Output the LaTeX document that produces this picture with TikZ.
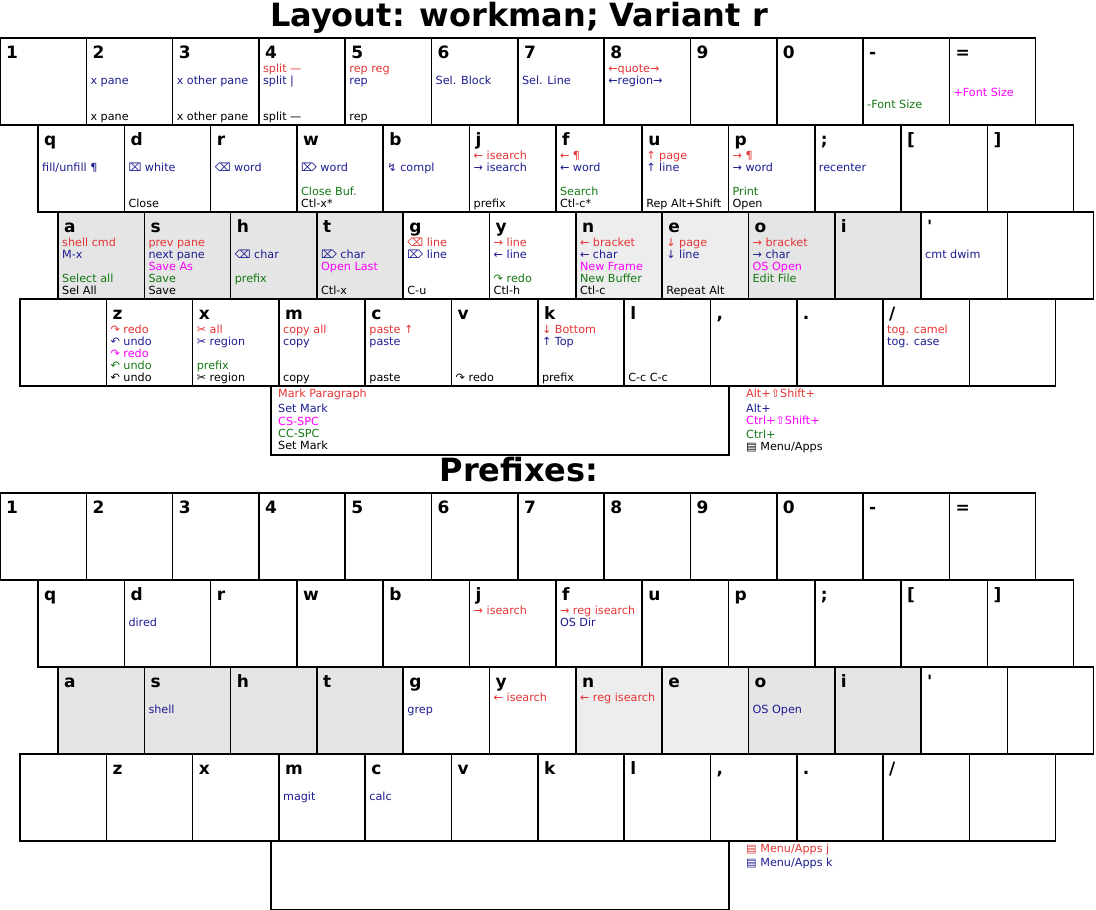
\documentclass[tikz,border=0pt]{standalone}
\usepackage{fontspec}
\setmainfont{DejaVu Sans}

\definecolor{keyred}{RGB}{228,52,52}
\definecolor{keyblue}{RGB}{28,28,145}
\definecolor{keymag}{RGB}{255,0,255}
\definecolor{keygreen}{RGB}{20,120,20}
\definecolor{keygray}{RGB}{229,229,229}
\definecolor{keylight}{RGB}{237,237,237}

\tikzset{
  key/.style={draw, line width=1.6pt, anchor=north west, minimum width=86.3pt,
    minimum height=87pt, inner sep=0pt, outer sep=0pt},
  spacebar/.style={key, line width=1.3pt, minimum width=458pt, minimum height=69pt},
  keycap/.style={anchor=base west, inner sep=0pt, xshift=6pt, yshift=-20pt,
    font=\fontsize{17}{17}\selectfont\bfseries},
  headline/.style={anchor=base, inner sep=0pt, font=\fontsize{32}{36}\selectfont\bfseries},
  txt/.style={anchor=base west, inner sep=0pt, xshift=4pt, font=\fontsize{11.2}{13}\selectfont},
  redln/.style={txt, text=keyred, yshift=-34pt},
  blueln/.style={txt, text=keyblue, yshift=-46pt},
  magln/.style={txt, text=keymag, yshift=-58pt},
  grnln/.style={txt, text=keygreen, yshift=-70pt},
  blkln/.style={txt, text=black, yshift=-82pt},
}

% one keyboard: rows 1..4, keys #1-row-col, space bar #1-sp
\newcommand{\drawkeys}[1]{%
  % number row
  \foreach \lab [count=\i] in {1,2,3,4,5,6,7,8,9,0,-,=} {
    \node[key] (#1-1-\i) at ({(\i-1)*86.3},0) {};
    \node[keycap] (#1-1-\i-cap) at (#1-1-\i.north west) {\lab};
  }
  % top row
  \foreach \lab [count=\i] in {q,d,r,w,b,j,f,u,p,;,{[},{]}} {
    \node[key] (#1-2-\i) at ({38+(\i-1)*86.3},87) {};
    \node[keycap] (#1-2-\i-cap) at (#1-2-\i.north west) {\lab};
  }
  % home row
  \foreach \lab/\fc [count=\i] in {a/keygray,s/keygray,h/keygray,t/keygray,g/white,y/white,
      n/keylight,e/keylight,o/keygray,i/keygray,{\textquotesingle}/white,{}/white} {
    \node[key, fill=\fc] (#1-3-\i) at ({58+(\i-1)*86.3},174) {};
    \node[keycap] (#1-3-\i-cap) at (#1-3-\i.north west) {\lab};
  }
  % bottom row
  \foreach \lab [count=\i] in {{},z,x,m,c,v,k,l,{,},.,{/},{}} {
    \node[key] (#1-4-\i) at ({20+(\i-1)*86.3},261) {};
    \node[keycap] (#1-4-\i-cap) at (#1-4-\i.north west) {\lab};
  }
  \node[spacebar] (#1-sp) at (271,348) {};
}

\begin{document}
\begin{tikzpicture}[x=1pt, y=-1pt]
  \useasboundingbox (0,0) rectangle (1096,910);

  \node[headline] (title) at (519,27) {Layout: workman; Variant r};
  \begin{scope}[shift={(0,38)}]
    \drawkeys{L}
  \end{scope}

  % number row
  \node[blueln] (L-1-2-b) at (L-1-2.north west) {x pane};
  \node[blkln] (L-1-2-k) at (L-1-2.north west) {x pane};
  \node[blueln] (L-1-3-b) at (L-1-3.north west) {x other pane};
  \node[blkln] (L-1-3-k) at (L-1-3.north west) {x other pane};
  \node[redln] (L-1-4-r) at (L-1-4.north west) {split —};
  \node[blueln] (L-1-4-b) at (L-1-4.north west) {split |};
  \node[blkln] (L-1-4-k) at (L-1-4.north west) {split —};
  \node[redln] (L-1-5-r) at (L-1-5.north west) {rep reg};
  \node[blueln] (L-1-5-b) at (L-1-5.north west) {rep};
  \node[blkln] (L-1-5-k) at (L-1-5.north west) {rep};
  \node[blueln] (L-1-6-b) at (L-1-6.north west) {Sel. Block};
  \node[blueln] (L-1-7-b) at (L-1-7.north west) {Sel. Line};
  \node[redln] (L-1-8-r) at (L-1-8.north west) {←quote→};
  \node[blueln] (L-1-8-b) at (L-1-8.north west) {←region→};
  \node[grnln] (L-1-11-g) at (L-1-11.north west) {-Font Size};
  \node[magln] (L-1-12-m) at (L-1-12.north west) {+Font Size};

  % top row
  \node[blueln] (L-2-1-b) at (L-2-1.north west) {fill/unfill ¶};
  \node[blueln] (L-2-2-b) at (L-2-2.north west) {⌧ white};
  \node[blkln] (L-2-2-k) at (L-2-2.north west) {Close};
  \node[blueln] (L-2-3-b) at (L-2-3.north west) {⌫ word};
  \node[blueln] (L-2-4-b) at (L-2-4.north west) {⌦ word};
  \node[grnln] (L-2-4-g) at (L-2-4.north west) {Close Buf.};
  \node[blkln] (L-2-4-k) at (L-2-4.north west) {Ctl-x*};
  \node[blueln] (L-2-5-b) at (L-2-5.north west) {↯ compl};
  \node[redln] (L-2-6-r) at (L-2-6.north west) {← isearch};
  \node[blueln] (L-2-6-b) at (L-2-6.north west) {→ isearch};
  \node[blkln] (L-2-6-k) at (L-2-6.north west) {prefix};
  \node[redln] (L-2-7-r) at (L-2-7.north west) {← ¶};
  \node[blueln] (L-2-7-b) at (L-2-7.north west) {← word};
  \node[grnln] (L-2-7-g) at (L-2-7.north west) {Search};
  \node[blkln] (L-2-7-k) at (L-2-7.north west) {Ctl-c*};
  \node[redln] (L-2-8-r) at (L-2-8.north west) {↑ page};
  \node[blueln] (L-2-8-b) at (L-2-8.north west) {↑ line};
  \node[blkln] (L-2-8-k) at (L-2-8.north west) {Rep Alt+Shift};
  \node[redln] (L-2-9-r) at (L-2-9.north west) {→ ¶};
  \node[blueln] (L-2-9-b) at (L-2-9.north west) {→ word};
  \node[grnln] (L-2-9-g) at (L-2-9.north west) {Print};
  \node[blkln] (L-2-9-k) at (L-2-9.north west) {Open};
  \node[blueln] (L-2-10-b) at (L-2-10.north west) {recenter};

  % home row
  \node[redln] (L-3-1-r) at (L-3-1.north west) {shell cmd};
  \node[blueln] (L-3-1-b) at (L-3-1.north west) {M-x};
  \node[grnln] (L-3-1-g) at (L-3-1.north west) {Select all};
  \node[blkln] (L-3-1-k) at (L-3-1.north west) {Sel All};
  \node[redln] (L-3-2-r) at (L-3-2.north west) {prev pane};
  \node[blueln] (L-3-2-b) at (L-3-2.north west) {next pane};
  \node[magln] (L-3-2-m) at (L-3-2.north west) {Save As};
  \node[grnln] (L-3-2-g) at (L-3-2.north west) {Save};
  \node[blkln] (L-3-2-k) at (L-3-2.north west) {Save};
  \node[blueln] (L-3-3-b) at (L-3-3.north west) {⌫ char};
  \node[grnln] (L-3-3-g) at (L-3-3.north west) {prefix};
  \node[blueln] (L-3-4-b) at (L-3-4.north west) {⌦ char};
  \node[magln] (L-3-4-m) at (L-3-4.north west) {Open Last};
  \node[blkln] (L-3-4-k) at (L-3-4.north west) {Ctl-x};
  \node[redln] (L-3-5-r) at (L-3-5.north west) {⌫ line};
  \node[blueln] (L-3-5-b) at (L-3-5.north west) {⌦ line};
  \node[blkln] (L-3-5-k) at (L-3-5.north west) {C-u};
  \node[redln] (L-3-6-r) at (L-3-6.north west) {→ line};
  \node[blueln] (L-3-6-b) at (L-3-6.north west) {← line};
  \node[grnln] (L-3-6-g) at (L-3-6.north west) {↷ redo};
  \node[blkln] (L-3-6-k) at (L-3-6.north west) {Ctl-h};
  \node[redln] (L-3-7-r) at (L-3-7.north west) {← bracket};
  \node[blueln] (L-3-7-b) at (L-3-7.north west) {← char};
  \node[magln] (L-3-7-m) at (L-3-7.north west) {New Frame};
  \node[grnln] (L-3-7-g) at (L-3-7.north west) {New Buffer};
  \node[blkln] (L-3-7-k) at (L-3-7.north west) {Ctl-c};
  \node[redln] (L-3-8-r) at (L-3-8.north west) {↓ page};
  \node[blueln] (L-3-8-b) at (L-3-8.north west) {↓ line};
  \node[blkln] (L-3-8-k) at (L-3-8.north west) {Repeat Alt};
  \node[redln] (L-3-9-r) at (L-3-9.north west) {→ bracket};
  \node[blueln] (L-3-9-b) at (L-3-9.north west) {→ char};
  \node[magln] (L-3-9-m) at (L-3-9.north west) {OS Open};
  \node[grnln] (L-3-9-g) at (L-3-9.north west) {Edit File};
  \node[blueln] (L-3-11-b) at (L-3-11.north west) {cmt dwim};

  % bottom row
  \node[redln] (L-4-2-r) at (L-4-2.north west) {↷ redo};
  \node[blueln] (L-4-2-b) at (L-4-2.north west) {↶ undo};
  \node[magln] (L-4-2-m) at (L-4-2.north west) {↷ redo};
  \node[grnln] (L-4-2-g) at (L-4-2.north west) {↶ undo};
  \node[blkln] (L-4-2-k) at (L-4-2.north west) {↶ undo};
  \node[redln] (L-4-3-r) at (L-4-3.north west) {✂ all};
  \node[blueln] (L-4-3-b) at (L-4-3.north west) {✂ region};
  \node[grnln] (L-4-3-g) at (L-4-3.north west) {prefix};
  \node[blkln] (L-4-3-k) at (L-4-3.north west) {✂ region};
  \node[redln] (L-4-4-r) at (L-4-4.north west) {copy all};
  \node[blueln] (L-4-4-b) at (L-4-4.north west) {copy};
  \node[blkln] (L-4-4-k) at (L-4-4.north west) {copy};
  \node[redln] (L-4-5-r) at (L-4-5.north west) {paste ↑};
  \node[blueln] (L-4-5-b) at (L-4-5.north west) {paste};
  \node[blkln] (L-4-5-k) at (L-4-5.north west) {paste};
  \node[blkln] (L-4-6-k) at (L-4-6.north west) {↷ redo};
  \node[redln] (L-4-7-r) at (L-4-7.north west) {↓ Bottom};
  \node[blueln] (L-4-7-b) at (L-4-7.north west) {↑ Top};
  \node[blkln] (L-4-7-k) at (L-4-7.north west) {prefix};
  \node[blkln] (L-4-8-k) at (L-4-8.north west) {C-c C-c};
  \node[redln] (L-4-11-r) at (L-4-11.north west) {tog. camel};
  \node[blueln] (L-4-11-b) at (L-4-11.north west) {tog. case};

  % space bar
  \node[txt, xshift=3pt, yshift=-11pt, text=keyred] (L-sp-r) at (L-sp.north west) {Mark Paragraph};
  \node[txt, xshift=3pt, yshift=-26pt, text=keyblue] (L-sp-b) at (L-sp.north west) {Set Mark};
  \node[txt, xshift=3pt, yshift=-39pt, text=keymag] (L-sp-m) at (L-sp.north west) {CS-SPC};
  \node[txt, xshift=3pt, yshift=-51pt, text=keygreen] (L-sp-g) at (L-sp.north west) {CC-SPC};
  \node[txt, xshift=3pt, yshift=-63pt, text=black] (L-sp-k) at (L-sp.north west) {Set Mark};

  % legend
  \node[txt, text=keyred] (leg-r) at (742,397) {Alt+⇧Shift+};
  \node[txt, text=keyblue] (leg-b) at (742,412) {Alt+};
  \node[txt, text=keymag] (leg-m) at (742,424) {Ctrl+⇧Shift+};
  \node[txt, text=keygreen] (leg-g) at (742,438) {Ctrl+};
  \node[txt, text=black] (leg-k) at (742,450) {▤ Menu/Apps};

  \node[headline] (prefixes) at (519,481) {Prefixes:};
  \begin{scope}[shift={(0,493)}]
    \drawkeys{P}
  \end{scope}

  \node[blueln] (P-2-2-b) at (P-2-2.north west) {dired};
  \node[redln] (P-2-6-r) at (P-2-6.north west) {→ isearch};
  \node[redln] (P-2-7-r) at (P-2-7.north west) {→ reg isearch};
  \node[blueln] (P-2-7-b) at (P-2-7.north west) {OS Dir};
  \node[blueln] (P-3-2-b) at (P-3-2.north west) {shell};
  \node[blueln] (P-3-5-b) at (P-3-5.north west) {grep};
  \node[redln] (P-3-6-r) at (P-3-6.north west) {← isearch};
  \node[redln] (P-3-7-r) at (P-3-7.north west) {← reg isearch};
  \node[blueln] (P-3-9-b) at (P-3-9.north west) {OS Open};
  \node[blueln] (P-4-4-b) at (P-4-4.north west) {magit};
  \node[blueln] (P-4-5-b) at (P-4-5.north west) {calc};

  \node[txt, text=keyred] (leg-j) at (742,852) {▤ Menu/Apps j};
  \node[txt, text=keyblue] (leg-kk) at (742,866) {▤ Menu/Apps k};
\end{tikzpicture}
\end{document}
